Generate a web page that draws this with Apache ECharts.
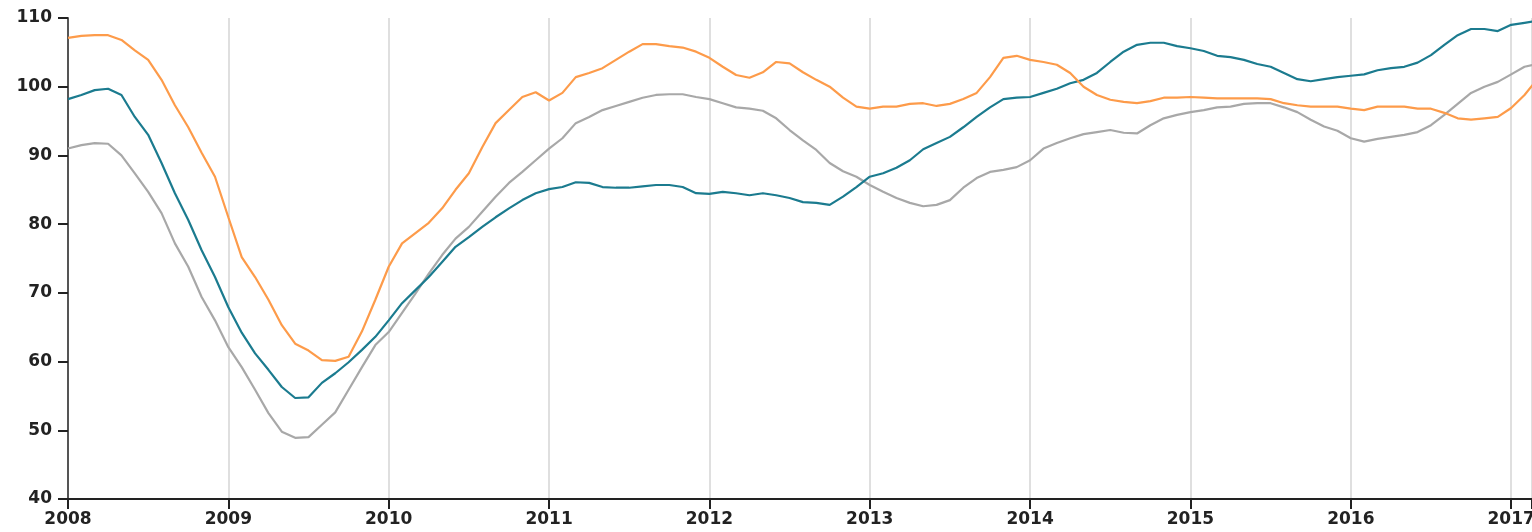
<!DOCTYPE html>
<html>
<head>
<meta charset="utf-8">
<script src="https://cdn.jsdelivr.net/npm/echarts@6/dist/echarts.min.js"></script>
<style>html,body{margin:0;padding:0;background:#fff;overflow:hidden;width:1532px;height:532px}#c{width:1532px;height:532px;position:absolute;left:0;top:0}</style>
</head>
<body>
<div id="c"></div>
<script>
// Monthly observations starting 2008-01
const startYear = 2008;
const months = [];
for (let i = 0; i < 111; i++) { months.push((startYear + Math.floor(i / 12)) + '-' + String(i % 12 + 1).padStart(2, '0')); }

const orangeSeries = [
 107.1,107.4,107.5,107.5,106.8,105.3,103.9,101.0,97.3,94.1,90.4,86.9,
 81.0,75.2,72.3,69.0,65.3,62.6,61.6,60.2,60.1,60.7,64.4,69.0,
 73.8,77.2,78.7,80.2,82.3,85.0,87.4,91.2,94.7,96.6,98.5,99.2,
 98.0,99.1,101.4,102.0,102.7,103.9,105.1,106.2,106.2,105.9,105.7,105.1,
 104.2,102.9,101.7,101.3,102.1,103.6,103.4,102.1,101.0,100.0,98.4,97.1,
 96.8,97.1,97.1,97.5,97.6,97.2,97.5,98.2,99.1,101.4,104.2,104.5,
 103.9,103.6,103.2,102.0,100.0,98.8,98.1,97.8,97.6,97.9,98.4,98.4,
 98.5,98.4,98.3,98.3,98.3,98.3,98.2,97.6,97.3,97.1,97.1,97.1,
 96.8,96.6,97.1,97.1,97.1,96.8,96.8,96.2,95.4,95.2,95.4,95.6,
 96.9,98.8,101.2
];
const tealSeries = [
 98.2,98.8,99.5,99.7,98.8,95.6,93.0,88.9,84.5,80.6,76.2,72.3,
 67.9,64.2,61.2,58.8,56.3,54.7,54.8,56.9,58.3,59.9,61.7,63.6,
 66.0,68.5,70.4,72.3,74.5,76.7,78.1,79.6,81.0,82.3,83.5,84.5,
 85.1,85.4,86.1,86.0,85.4,85.3,85.3,85.5,85.7,85.7,85.4,84.5,
 84.4,84.7,84.5,84.2,84.5,84.2,83.8,83.2,83.1,82.8,84.0,85.4,
 86.9,87.4,88.2,89.3,90.9,91.8,92.7,94.1,95.6,97.0,98.2,98.4,
 98.5,99.1,99.7,100.5,101.0,102.0,103.6,105.1,106.1,106.4,106.4,105.9,
 105.6,105.2,104.5,104.3,103.9,103.3,102.9,102.0,101.1,100.8,101.1,101.4,
 101.6,101.8,102.4,102.7,102.9,103.5,104.6,106.1,107.5,108.4,108.4,108.1,
 109.0,109.3,109.6
];
const graySeries = [
 91.0,91.5,91.8,91.7,90.0,87.4,84.7,81.6,77.2,73.8,69.4,66.0,
 62.1,59.2,55.9,52.5,49.8,48.9,49.0,50.8,52.6,55.9,59.2,62.4,
 64.3,67.1,69.9,72.8,75.5,77.9,79.6,81.8,84.0,86.0,87.6,89.3,
 91.0,92.5,94.7,95.6,96.6,97.2,97.8,98.4,98.8,98.9,98.9,98.5,
 98.2,97.6,97.0,96.8,96.5,95.4,93.7,92.2,90.8,88.9,87.7,86.9,
 85.7,84.7,83.8,83.1,82.6,82.8,83.5,85.3,86.7,87.6,87.9,88.3,
 89.3,91.0,91.8,92.5,93.1,93.4,93.7,93.3,93.2,94.4,95.4,95.9,
 96.3,96.6,97.0,97.1,97.5,97.6,97.6,97.0,96.3,95.2,94.2,93.6,
 92.5,92.0,92.4,92.7,93.0,93.4,94.4,95.9,97.5,99.1,100.0,100.7,
 101.8,102.9,103.3
];
const yTicks = [40, 50, 60, 70, 80, 90, 100, 110];

function toYear(m) { const p = m.split('-'); return +p[0] + (+p[1] - 1) / 12; }
function pairs(vals) { return vals.map((v, i) => [toYear(months[i]), v]); }

const chart = echarts.init(document.getElementById('c'), null, { renderer: 'canvas', width: 1532, height: 532 });
const font = 'DejaVu Sans';
chart.setOption({
  animation: false,
  grid: { left: 68, right: 0, top: 18, bottom: 33, containLabel: false, outerBoundsMode: 'none' },
  xAxis: {
    type: 'value', min: 2008, max: 2017.13, interval: 1,
    axisLine: { show: true, lineStyle: { color: '#222', width: 2 } },
    axisTick: { show: true, length: 10, lineStyle: { color: '#222', width: 2 } },
    axisLabel: { color: '#222', fontFamily: font, fontSize: 17, fontWeight: 'bold', margin: 12,
      hideOverlap: false,
      formatter: v => Math.abs(v - Math.round(v)) < 1e-6 ? String(Math.round(v)) : '' },
    splitLine: { show: true, lineStyle: { color: '#d4d4d4', width: 1.5 } }
  },
  yAxis: {
    type: 'value', min: yTicks[0], max: yTicks[yTicks.length - 1], interval: 10,
    axisLine: { show: true, lineStyle: { color: '#555', width: 2 } },
    axisTick: { show: true, length: 10, lineStyle: { color: '#222', width: 2 } },
    axisLabel: { color: '#222', fontFamily: font, fontSize: 17, fontWeight: 'bold', margin: 16 },
    splitLine: { show: false }
  },
  series: [
    { type: 'line', data: pairs(graySeries), showSymbol: false, clip: true,
      lineStyle: { color: '#a8a8a8', width: 2.2 } },
    { type: 'line', data: pairs(tealSeries), showSymbol: false, clip: true,
      lineStyle: { color: '#1b7b8f', width: 2.2 } },
    { type: 'line', data: pairs(orangeSeries), showSymbol: false, clip: true,
      lineStyle: { color: '#fd9b4a', width: 2.2 } }
  ]
});
</script>
</body>
</html>
